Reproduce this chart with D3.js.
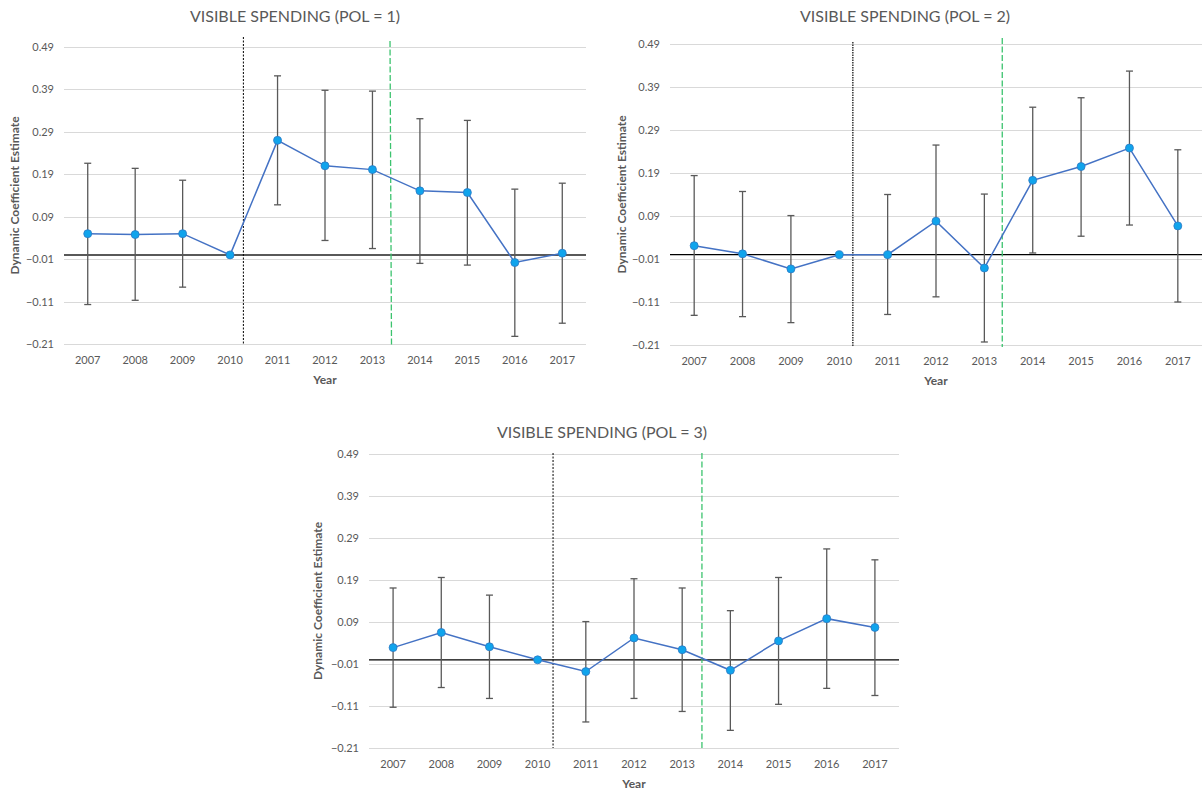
<!DOCTYPE html>
<html>
<head>
<meta charset="utf-8">
<script src="https://cdn.jsdelivr.net/npm/d3@7"></script>
<style>
  html, body { margin: 0; padding: 0; background: #fff; }
  svg { display: block; }
  text { font-family: Lato, "Open Sans", "Liberation Sans", sans-serif; }
</style>
</head>
<body>
<svg id="chart" width="1202" height="795"></svg>
<script>
// ---------- DATA ----------
const years = ["2007","2008","2009","2010","2011","2012","2013","2014","2015","2016","2017"];
const yTicks = [-0.21, -0.11, -0.01, 0.09, 0.19, 0.29, 0.39, 0.49];
const titles = ["VISIBLE SPENDING (POL = 1)", "VISIBLE SPENDING (POL = 2)", "VISIBLE SPENDING (POL = 3)"];
const xTitle = "Year";
const yTitle = "Dynamic Coefficient Estimate";

const est1   = [0.050, 0.048, 0.050, 0.000, 0.270, 0.210, 0.201, 0.151, 0.147, -0.018, 0.004];
const upper1 = [0.216, 0.204, 0.176, 0.000, 0.422, 0.388, 0.386, 0.321, 0.317, 0.155, 0.169];
const lower1 = [-0.117, -0.107, -0.076, 0.000, 0.118, 0.034, 0.015, -0.020, -0.024, -0.192, -0.161];

const est2   = [0.021, 0.002, -0.033, 0.000, 0.000, 0.078, -0.031, 0.173, 0.205, 0.248, 0.067];
const upper2 = [0.184, 0.147, 0.091, 0.000, 0.140, 0.255, 0.141, 0.343, 0.365, 0.427, 0.244];
const lower2 = [-0.141, -0.144, -0.158, 0.000, -0.139, -0.098, -0.203, 0.004, 0.043, 0.069, -0.110];

const est3   = [0.029, 0.065, 0.031, 0.000, -0.028, 0.052, 0.024, -0.025, 0.045, 0.098, 0.077];
const upper3 = [0.171, 0.196, 0.154, 0.000, 0.091, 0.193, 0.171, 0.117, 0.196, 0.264, 0.238];
const lower3 = [-0.113, -0.066, -0.092, 0.000, -0.148, -0.092, -0.123, -0.168, -0.106, -0.068, -0.085];

// event markers, in fractional category index (0 = 2007)
const eventBlack = [3.28, 3.28, 3.32];
const eventGreen = [6.37, 6.37, 6.41];

// ---------- LAYOUT ----------
const panels = [
  { x0: 64,  x1: 586,  yTop: 47,  yBot: 344, titleX: 295, titleY: 16,  yTitleX: 15,
    est: est1, up: upper1, lo: lower1, zero: { color: "#595959", w: 2 },
    blk: { y0: 37, y1: 345, color: "#000", w: 1, dash: "2,1.5" },
    grn: { y0: 41, y1: 347 } },
  { x0: 670, x1: 1202, yTop: 44, yBot: 345, titleX: 905, titleY: 16, yTitleX: 622,
    est: est2, up: upper2, lo: lower2, zero: { color: "#000", w: 1.2 },
    blk: { y0: 42, y1: 347, color: "#444", w: 1.6, dash: "1.5,1" },
    grn: { y0: 38, y1: 347 } },
  { x0: 369, x1: 899, yTop: 454, yBot: 748, titleX: 602, titleY: 432, yTitleX: 318,
    est: est3, up: upper3, lo: lower3, zero: { color: "#000", w: 1.2 },
    blk: { y0: 453, y1: 748, color: "#000", w: 1, dash: "2,1.5" },
    grn: { y0: 453, y1: 750 } }
];

const svg = d3.select("#chart");

panels.forEach((p, pi) => {
  const g = svg.append("g");
  const x = d3.scaleBand().domain(years).range([p.x0, p.x1]);
  const xc = d => x(d) + x.bandwidth() / 2;
  const xi = d3.scaleLinear().domain([0, 1]).range([xc(years[0]), xc(years[1])]);
  const y = d3.scaleLinear().domain([-0.21, 0.49]).range([p.yBot, p.yTop]);

  // gridlines
  g.append("g").selectAll("line").data(yTicks).join("line")
    .attr("x1", p.x0).attr("x2", p.x1)
    .attr("y1", d => Math.round(y(d)) + 0.5).attr("y2", d => Math.round(y(d)) + 0.5)
    .attr("stroke", "#d9d9d9").attr("stroke-width", 1.2);

  // y axis labels
  const yAxis = d3.axisLeft(y).tickValues(yTicks).tickSize(0).tickPadding(10)
    .tickFormat(d3.format(".2f"));
  const ya = g.append("g").attr("transform", `translate(${p.x0},0)`).call(yAxis);
  ya.select(".domain").remove();
  ya.selectAll("text").attr("fill", "#595959").style("font-size", "11px")
    .style("font-family", "Lato, 'Open Sans', sans-serif");

  // x axis labels
  const xAxis = d3.axisBottom(x).tickSize(0).tickPadding(12);
  const xa = g.append("g").attr("transform", `translate(0,${p.yBot})`).call(xAxis);
  xa.select(".domain").remove();
  xa.selectAll("text").attr("fill", "#595959").style("font-size", "11px")
    .style("font-family", "Lato, 'Open Sans', sans-serif");

  // zero line
  g.append("line")
    .attr("x1", p.x0).attr("x2", p.x1)
    .attr("y1", y(0)).attr("y2", y(0))
    .attr("stroke", p.zero.color).attr("stroke-width", p.zero.w);

  // event lines
  const bx = xi(eventBlack[pi]);
  g.append("line").attr("x1", bx).attr("x2", bx).attr("y1", p.blk.y0).attr("y2", p.blk.y1)
    .attr("stroke", p.blk.color).attr("stroke-width", p.blk.w).attr("stroke-dasharray", p.blk.dash);
  const gx = xi(eventGreen[pi]);
  g.append("line").attr("x1", gx).attr("x2", gx + (pi === 0 ? 1.5 : 0)).attr("y1", p.grn.y0).attr("y2", p.grn.y1)
    .attr("stroke", "#3cc36e").attr("stroke-width", 1.3).attr("stroke-dasharray", "6,2.5");

  const rows = years.map((yr, i) => ({ yr, v: p.est[i], hi: p.up[i], lo: p.lo[i] }));

  // error bars
  const eb = g.append("g").selectAll("g").data(rows.filter(r => r.hi !== r.lo)).join("g")
    .attr("stroke", "#595959").attr("stroke-width", 1.3);
  eb.append("line").attr("x1", d => xc(d.yr)).attr("x2", d => xc(d.yr))
    .attr("y1", d => y(d.hi)).attr("y2", d => y(d.lo));
  eb.append("line").attr("x1", d => xc(d.yr) - 3.5).attr("x2", d => xc(d.yr) + 3.5)
    .attr("y1", d => y(d.hi)).attr("y2", d => y(d.hi));
  eb.append("line").attr("x1", d => xc(d.yr) - 3.5).attr("x2", d => xc(d.yr) + 3.5)
    .attr("y1", d => y(d.lo)).attr("y2", d => y(d.lo));

  // line
  g.append("path").datum(rows)
    .attr("fill", "none").attr("stroke", "#4472C4").attr("stroke-width", 1.5)
    .attr("d", d3.line().x(d => xc(d.yr)).y(d => y(d.v)));

  // markers
  g.append("g").selectAll("circle").data(rows).join("circle")
    .attr("cx", d => xc(d.yr)).attr("cy", d => y(d.v)).attr("r", 4)
    .attr("fill", "#10a4ec").attr("stroke", "#2e79c4").attr("stroke-width", 0.8);

  // titles
  g.append("text").attr("x", p.titleX).attr("y", p.titleY).attr("dy", "0.35em")
    .attr("text-anchor", "middle").attr("fill", "#595959").style("font-size", "16px")
    .text(titles[pi]);
  g.append("text").attr("x", (p.x0 + p.x1) / 2 + (pi === 1 ? 0 : 0)).attr("y", p.yBot + 36).attr("dy", "0.35em")
    .attr("text-anchor", "middle").attr("fill", "#595959").style("font-size", "12px")
    .style("font-weight", "bold").text(xTitle);
  g.append("text")
    .attr("transform", `translate(${p.yTitleX},${(p.yTop + p.yBot) / 2}) rotate(-90)`)
    .attr("dy", "0.35em").attr("text-anchor", "middle").attr("fill", "#595959")
    .style("font-size", "12px").style("font-weight", "bold").text(yTitle);
});
</script>
</body>
</html>
